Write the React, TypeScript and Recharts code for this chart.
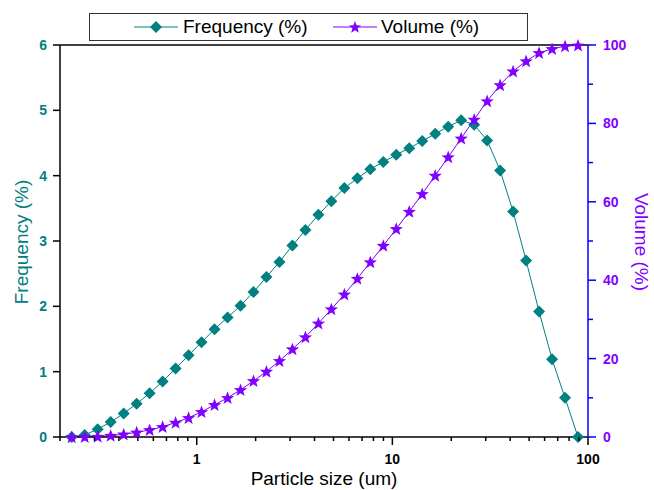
import React from "react";
import { ComposedChart, Line, XAxis, YAxis, ReferenceLine } from "recharts";

const TEAL = "#008080";
const PURPLE = "#8000ff";
const FONT = "Arial, 'Liberation Sans', sans-serif";

// particle size classes (um)
const sizes = [
  0.2296, 0.2675, 0.3117, 0.3632, 0.4231, 0.493, 0.5744, 0.6692, 0.7797, 0.9084,
  1.058, 1.233, 1.437, 1.674, 1.95, 2.272, 2.647, 3.084, 3.594, 4.187,
  4.878, 5.683, 6.622, 7.715, 8.988, 10.47, 12.2, 14.21, 16.56, 19.29,
  22.48, 26.19, 30.51, 35.55, 41.42, 48.26, 56.23, 65.51, 76.32, 88.92,
];

const frequency = [
  0, 0.03, 0.12, 0.23, 0.36, 0.51, 0.67, 0.85, 1.05, 1.25,
  1.45, 1.65, 1.83, 2.01, 2.22, 2.45, 2.68, 2.93, 3.17, 3.4,
  3.61, 3.81, 3.96, 4.1, 4.21, 4.32, 4.42, 4.53, 4.64, 4.75,
  4.85, 4.78, 4.54, 4.08, 3.45, 2.7, 1.92, 1.19, 0.6, 0,
];

const volume = [
  0, 0.03, 0.1, 0.35, 0.7, 1.2, 1.8, 2.6, 3.7, 4.9,
  6.4, 8.2, 10.0, 12.0, 14.3, 16.7, 19.4, 22.4, 25.5, 29.0,
  32.6, 36.4, 40.4, 44.6, 48.8, 53.1, 57.5, 62.0, 66.7, 71.4,
  76.2, 81.0, 85.7, 89.8, 93.3, 95.9, 98.0, 99.0, 99.7, 99.9,
];

const xTicks = [
  0.2, 0.3, 0.4, 0.5, 0.6, 0.7, 0.8, 0.9, 1, 2, 3, 4, 5, 6, 7, 8, 9,
  10, 20, 30, 40, 50, 60, 70, 80, 90, 100,
];
const xMajor = [1, 10, 100];
const leftTicks = [0, 1, 2, 3, 4, 5, 6];
const rightTicks = [0, 10, 20, 30, 40, 50, 60, 70, 80, 90, 100];

const data = sizes.map((size, i) => ({ size, frequency: frequency[i], volume: volume[i] }));

function starPoints(cx: number, cy: number, outer: number, inner: number) {
  const pts: string[] = [];
  for (let k = 0; k < 10; k++) {
    const r = k % 2 === 0 ? outer : inner;
    const a = -Math.PI / 2 + (k * Math.PI) / 5;
    pts.push(`${cx + r * Math.cos(a)},${cy + r * Math.sin(a)}`);
  }
  return pts.join(" ");
}

const Diamond = (props: any) => {
  const { cx, cy, index } = props;
  const r = 6;
  return (
    <polygon
      key={`d-${index}`}
      points={`${cx},${cy - r} ${cx + r},${cy} ${cx},${cy + r} ${cx - r},${cy}`}
      fill={TEAL}
    />
  );
};

const Star = (props: any) => {
  const { cx, cy, index } = props;
  return <polygon key={`s-${index}`} points={starPoints(cx, cy + 0.5, 7, 2.9)} fill={PURPLE} />;
};

const XTick = (props: any) => {
  const { x, y, payload } = props;
  const major = xMajor.includes(payload.value);
  return (
    <g>
      <line x1={x} y1={y} x2={x} y2={y + (major ? 8 : 4)} stroke="#000" strokeWidth={1.5} />
      {major && (
        <text x={x} y={y + 27} textAnchor="middle" fontSize={14} fontWeight="bold" fill="#000" fontFamily={FONT}>
          {payload.value}
        </text>
      )}
    </g>
  );
};

const LeftTick = (props: any) => {
  const { x, y, payload } = props;
  return (
    <g>
      <line x1={x - 7} y1={y} x2={x} y2={y} stroke="#000" strokeWidth={1.5} />
      <text x={x - 13} y={y + 5} textAnchor="end" fontSize={14} fontWeight="bold" fill={TEAL} fontFamily={FONT}>
        {payload.value}
      </text>
    </g>
  );
};

const RightTick = (props: any) => {
  const { x, y, payload } = props;
  const major = payload.value % 20 === 0;
  return (
    <g>
      <line x1={x} y1={y} x2={x + (major ? 8 : 5)} y2={y} stroke="#0000ff" strokeWidth={1.5} />
      {major && (
        <text x={x + 15} y={y + 5} textAnchor="start" fontSize={14} fontWeight="bold" fill={PURPLE} fontFamily={FONT}>
          {payload.value}
        </text>
      )}
    </g>
  );
};

const leftTitle = () => (
  <text x={21} y={242} transform="rotate(-90 21 242)" textAnchor="middle" dominantBaseline="central"
    fontSize={19} fill={TEAL} fontFamily={FONT}>
    Frequency (%)
  </text>
);

const rightTitle = () => (
  <text x={641} y={242} transform="rotate(90 641 242)" textAnchor="middle" dominantBaseline="central"
    fontSize={19} fill={PURPLE} fontFamily={FONT}>
    Volume (%)
  </text>
);

const xTitle = () => (
  <text x={324} y={485} textAnchor="middle" fontSize={19} fill="#000" fontFamily={FONT}>
    Particle size (um)
  </text>
);

export default function App() {
  return (
    <div style={{ position: "absolute", left: 0, top: 0, width: 654, height: 490, background: "#fff" }}>
      <ComposedChart width={654} height={490} data={data} margin={{ top: 45, right: 0, bottom: 0, left: 0 }}>
        <XAxis
          dataKey="size"
          type="number"
          scale="log"
          domain={[0.2, 100]}
          allowDataOverflow
          ticks={xTicks}
          interval={0}
          height={53}
          tickSize={0}
          tickMargin={0}
          tickLine={false}
          axisLine={{ stroke: "#000", strokeWidth: 1.5 }}
          tick={<XTick />}
          label={xTitle}
        />
        <YAxis
          yAxisId="left"
          domain={[0, 6]}
          ticks={leftTicks}
          interval={0}
          width={60}
          tickSize={0}
          tickMargin={0}
          tickLine={false}
          axisLine={{ stroke: "#000", strokeWidth: 1.5 }}
          tick={<LeftTick />}
          label={leftTitle}
        />
        <YAxis
          yAxisId="right"
          orientation="right"
          domain={[0, 100]}
          ticks={rightTicks}
          interval={0}
          width={66}
          tickSize={0}
          tickMargin={0}
          tickLine={false}
          axisLine={{ stroke: "#0000ff", strokeWidth: 1.5 }}
          tick={<RightTick />}
          label={rightTitle}
        />
        <ReferenceLine yAxisId="left" y={6} stroke="#000" strokeWidth={1.5} />
        <Line
          yAxisId="left"
          dataKey="frequency"
          stroke={TEAL}
          strokeWidth={1}
          dot={Diamond}
          activeDot={false}
          isAnimationActive={false}
        />
        <Line
          yAxisId="right"
          dataKey="volume"
          stroke={PURPLE}
          strokeWidth={1}
          dot={Star}
          activeDot={false}
          isAnimationActive={false}
        />
      </ComposedChart>
      {/* Manual legend */}
      <div
        style={{
          position: "absolute",
          left: 89,
          top: 13,
          width: 437,
          height: 26,
          border: "1px solid #333",
          fontFamily: FONT,
          fontSize: 19,
          color: "#000",
        }}
      >
        <svg width={44} height={16} style={{ position: "absolute", left: 44, top: 5 }}>
          <line x1={0} y1={8} x2={44} y2={8} stroke={TEAL} strokeWidth={1} />
          <polygon points="22,2 28,8 22,14 16,8" fill={TEAL} />
        </svg>
        <span style={{ position: "absolute", left: 93, top: 2, lineHeight: "22px" }}>Frequency (%)</span>
        <svg width={44} height={16} style={{ position: "absolute", left: 243, top: 5 }}>
          <line x1={0} y1={8} x2={44} y2={8} stroke={PURPLE} strokeWidth={1} />
          <polygon points={starPoints(22, 8.5, 6.5, 2.7)} fill={PURPLE} />
        </svg>
        <span style={{ position: "absolute", left: 291, top: 2, lineHeight: "22px" }}>Volume (%)</span>
      </div>
    </div>
  );
}
